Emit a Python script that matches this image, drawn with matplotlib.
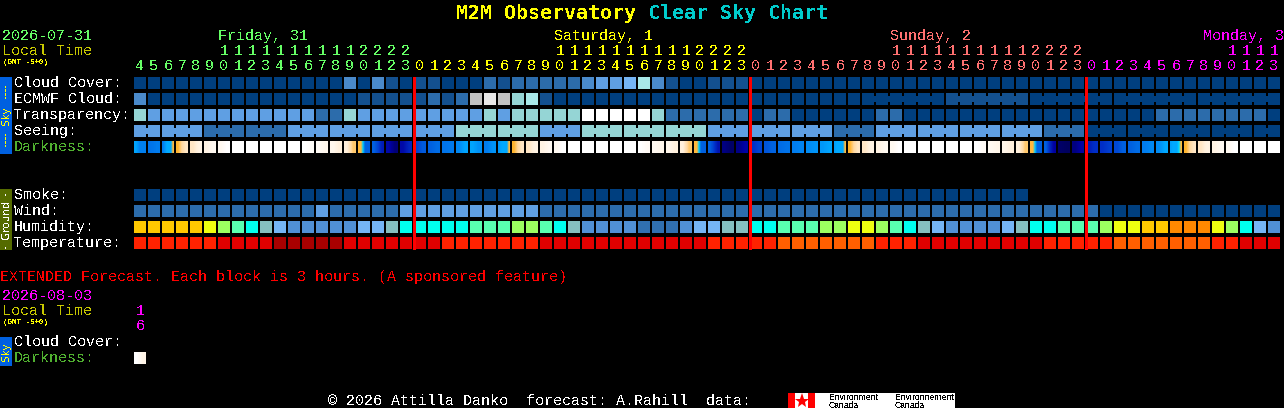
import numpy as np
import matplotlib
matplotlib.use('Agg')
import matplotlib.pyplot as plt
from matplotlib.colors import LinearSegmentedColormap
from matplotlib.patches import Rectangle

plt.rcParams['text.antialiased'] = False

# hour of each column, first column is 04:00 on friday
hours = [4, 5, 6, 7, 8, 9, 10, 11, 12, 13, 14, 15, 16, 17, 18, 19, 20, 21, 22, 23,
         0, 1, 2, 3, 4, 5, 6, 7, 8, 9, 10, 11, 12, 13, 14, 15, 16, 17, 18, 19, 20, 21, 22, 23,
         0, 1, 2, 3, 4, 5, 6, 7, 8, 9, 10, 11, 12, 13, 14, 15, 16, 17, 18, 19, 20, 21, 22, 23,
         0, 1, 2, 3, 4, 5, 6, 7, 8, 9, 10, 11, 12, 13]
midnights = [20, 44, 68]

# values are indices into the palettes below
cloud = [0, 0, 0, 0, 0, 0, 0, 0, 0, 0, 0, 0, 0, 0, 0, 3, 0, 3, 1, 0,
         1, 1, 0, 0, 0, 2, 1, 2, 2, 2, 2, 2, 3, 4, 4, 5, 7, 3, 1, 0,
         0, 1, 1, 1, 0, 0, 0, 0, 0, 0, 0, 0, 0, 0, 0, 0, 0, 0, 0, 0,
         0, 0, 0, 0, 0, 0, 0, 0, 0, 0, 0, 0, 0, 0, 0, 0, 0, 0, 0, 0, 0, 0]
ecmwf = [3, 0, 0, 0, 0, 0, 0, 0, 0, 0, 0, 0, 0, 0, 0, 0, 1, 1, 1, 1,
         1, 2, 1, 2, 8, 9, 8, 6, 7, 1, 0, 0, 0, 0, 0, 0, 0, 0, 0, 0,
         0, 0, 0, 0, 0, 0, 0, 0, 0, 0, 0, 0, 0, 0, 0, 0, 0, 0, 1, 1,
         1, 1, 1, 1, 0, 0, 0, 0, 0, 0, 0, 0, 0, 0, 0, 0, 0, 0, 0, 0, 0, 0]
ecmwf_groups = [1] * 52 + [6] * 5
transparency = [6, 4, 4, 4, 4, 4, 4, 4, 4, 4, 4, 4, 4, 2, 2, 6, 4, 4, 4, 4,
                4, 4, 4, 4, 4, 6, 4, 6, 6, 6, 6, 6, 10, 10, 10, 10, 10, 6, 2, 2,
                2, 2, 2, 2, 0, 2, 2, 0, 0, 0, 0, 0, 0, 2, 2, 0, 0, 0, 0, 0,
                0, 0, 0, 0, 0, 0, 0, 0, 0, 0, 0, 0, 0, 2, 2, 2, 2, 2, 2, 2, 2, 0]
seeing_3h = [4, 4, 2, 2, 4, 4, 4, 4, 6, 6, 4, 6, 6, 6, 4, 4, 4, 2, 4, 4, 4, 4, 2, 0, 0, 0, 0, 0]
seeing_groups = [2] + [3] * 26 + [2]
smoke = [0, 0, 0, 0, 0, 0, 0, 0, 0, 0, 0, 0, 0, 0, 0, 0, 0, 0, 0, 0,
         0, 0, 0, 0, 0, 0, 0, 0, 0, 0, 0, 0, 0, 0, 0, 0, 0, 0, 0, 0,
         0, 0, 0, 0, 0, 0, 0, 0, 0, 0, 0, 0, 0, 0, 0, 0, 0, 0, 0, 0, 0, 0, 0, 0]
wind = [2, 2, 2, 2, 2, 2, 2, 2, 2, 2, 2, 2, 2, 4, 2, 2, 2, 2, 2, 4,
        4, 4, 4, 4, 4, 4, 4, 4, 4, 2, 2, 2, 2, 2, 2, 2, 2, 2, 2, 2,
        2, 2, 2, 2, 2, 2, 2, 2, 2, 2, 2, 2, 2, 2, 2, 2, 2, 2, 2, 2,
        2, 2, 2, 2, 2, 2, 2, 2, 2, 0, 0, 0, 0, 0, 0, 0, 0, 0, 0, 0, 0, 0]
humidity = [1, 1, 1, 1, 1, 2, 3, 4, 5, 6, 7, 8, 8, 8, 8, 8, 7, 7, 6, 5,
            5, 5, 5, 5, 4, 4, 4, 3, 3, 4, 5, 6, 8, 8, 8, 8, 9, 9, 9, 8,
            7, 7, 6, 6, 5, 5, 4, 4, 4, 3, 3, 2, 2, 3, 4, 5, 6, 7, 8, 8,
            8, 8, 7, 6, 5, 5, 4, 4, 4, 3, 2, 2, 1, 1, 0, 0, 0, 2, 3, 5, 7, 8]
temperature = [1, 1, 1, 1, 1, 1, 2, 2, 2, 2, 3, 3, 3, 3, 3, 2, 2, 2, 2, 2,
               2, 2, 1, 1, 1, 1, 1, 1, 1, 2, 2, 2, 2, 2, 2, 2, 2, 2, 2, 2,
               2, 1, 1, 1, 1, 1, 0, 0, 0, 0, 0, 0, 0, 1, 1, 1, 2, 2, 2, 2,
               2, 2, 2, 2, 2, 1, 1, 1, 1, 1, 0, 0, 0, 0, 0, 0, 0, 1, 1, 2, 2, 2]

# sky brightness read across each block, 0 is darkest, 9 is daylight
darkness = [(4.9, 4.0, 4.0), (3.6, 3.9), (3.9, 4.5, 5, 5, 5, 6.2), (6.1, 7, 7.6), (7.6, 8.2),
            (8.2, 8.6), (8.6, 9), (9, 9), (9, 9), (9, 9), (9, 9), (9, 9), (9, 8.8), (8.7, 8.5),
            (8.5, 8), (8, 6.6), (6.2, 6.2, 5.3, 3.1, 3, 3), (3, 2.4, 1.6), (1.2, 0.5), (1.2, 1.8),
            (2.4, 2.9), (3, 3.4), (3.6, 3.8), (4.2, 4.9), (4.9, 4.4), (3.9, 4.5),
            (4.6, 4.9, 5, 5, 5, 6.2), (6.1, 7, 7.6), (7.6, 8.2), (8.2, 8.6), (8.6, 9),
            (9, 9), (9, 9), (9, 9), (9, 9), (9, 9), (9, 8.7), (8.6, 8.4), (8.4, 8), (8, 6.6),
            (6.2, 6.2, 5.3, 3.1, 3, 3), (3, 2.2, 1.4), (0.6, 0.3), (0.7, 1.1),
            (2, 2.4), (2.8, 3.1), (3.4, 3.6), (3.9, 4.1), (4.3, 4.5), (4.6, 4.9),
            (4.8, 5, 5, 5, 5, 6.2), (6.1, 7, 7.6), (7.6, 8.2), (8.2, 8.6), (8.6, 9),
            (9, 9), (9, 9), (9, 9), (9, 9), (9, 9), (9, 8.7), (8.6, 8.4), (8.4, 8), (8, 6.6),
            (6.2, 6.2, 5.3, 3.1, 3, 3), (3, 1.8, 1), (0.3, 0.2), (0.6, 1.1),
            (1.6, 2), (2, 2.3), (2.5, 3), (3, 3.4), (3.9, 4.2), (4.3, 5),
            (4.8, 5, 5, 5, 5.4, 6.2), (6.1, 7, 7.6), (7.6, 8.2), (8.2, 8.6), (8.6, 9),
            (9, 9), (9, 9), (9, 9)]
ext_darkness = [(9, 8.3)]

sky_colors = ['#003f7f', '#13508f', '#2c6cab', '#4a8acb', '#5f9fe3', '#75b5f5',
              '#95d5d5', '#a8e8e8', '#c2c2c2', '#e8e8e8', '#ffffff']
humidity_colors = ['#ff8800', '#ffc800', '#eeff10', '#9cff60', '#59ffb0', '#00ffee',
                   '#85bfbf', '#75b5f5', '#5090d5', '#3070b0']
temp_colors = ['#ff5f00', '#ff2200', '#e00000', '#a80000']
dark_stops = [(0, '#000050'), (1, '#0000a0'), (2, '#0030c8'), (3, '#0060e0'), (4, '#0080f0'),
              (5, '#00a8ff'), (5.5, '#00e5ff'), (6, '#ffb020'), (7, '#ffd8a0'), (8, '#fff0dc'),
              (9, '#ffffff')]
dark_cmap = LinearSegmentedColormap.from_list('dark', [(v / 9, c) for v, c in dark_stops])

GREEN = '#66ff66'
YELLOW = '#ffff00'
SALMON = '#ff7070'
MAGENTA = '#ff00ff'
OLIVE = '#c8c800'
DARK_GREEN = '#50b030'
MONO = 'Liberation Mono'

fig = plt.figure(figsize=(12.84, 4.08), dpi=100, facecolor='black')
ax = fig.add_axes([0, 0, 1, 1], facecolor='black')


def left(col):
    return 134 + 14 * np.asarray(col)


def label(x, y, s, color='white', size=10.8, **kw):
    ax.text(x, y, s, color=color, fontsize=size, family=MONO, va='baseline', **kw)


def blocks(values, colors, top, groups=None):
    cols = np.arange(len(values))
    shades = [colors[v] for v in values]
    ax.bar(left(cols), 12, 12, bottom=top, color=shades, align='edge', antialiased=False)
    if groups is None:
        return
    # blocks of one forecast step are joined by a thin bridge
    start = 0
    for size in groups:
        for col in range(start, start + size - 1):
            ax.bar(left(col) + 12, 6, 2, bottom=top + 3, color=shades[col], align='edge', antialiased=False)
        start += size


def dark_blocks(samples, top):
    for col, row in enumerate(samples):
        x = left(col)
        ax.imshow(np.array([row], dtype=float), extent=(x, x + 12, top + 12, top), cmap=dark_cmap,
                  vmin=0, vmax=9, interpolation='bilinear', aspect='auto')


def tab_text(y, s, color):
    ax.text(6, y, s, color=color, fontsize=7.5, family='DejaVu Sans', rotation=90, ha='center', va='center')


# title
ax.text(456, 19, 'M2M Observatory', color=YELLOW, fontsize=14.4, family='DejaVu Sans Mono', weight='bold', va='baseline')
ax.text(648, 19, 'Clear Sky Chart', color='#00cccc', fontsize=14.4, family='DejaVu Sans Mono', weight='bold', va='baseline')

# header
label(2, 40, '2026-07-31', GREEN)
label(2, 55, 'Local Time', OLIVE)
label(3, 64, '(GMT -5+0)', YELLOW, size=5.4, weight='bold')
label(218, 40, 'Friday, 31', GREEN)
label(554, 40, 'Saturday, 1', YELLOW)
label(890, 40, 'Sunday, 2', SALMON)
label(1203, 40, 'Monday, 3', MAGENTA)

day_colors = [GREEN] * midnights[0] + [YELLOW] * 24 + [SALMON] * 24 + [MAGENTA] * 14
for col, hour in enumerate(hours):
    x = left(col) + 6
    label(x, 70, str(hour % 10), day_colors[col], ha='center')
    if hour >= 10:
        label(x, 55, str(hour // 10), day_colors[col], ha='center')

# sky rows
row_names = ['Cloud Cover:', 'ECMWF Cloud:', 'Transparency:', 'Seeing:']
for i, name in enumerate(row_names):
    label(14, 87 + 16 * i, name)
label(14, 151, 'Darkness:', DARK_GREEN)
blocks(cloud, sky_colors, 77)
blocks(ecmwf, sky_colors, 93, ecmwf_groups)
blocks(transparency, sky_colors, 109)
blocks(np.repeat(seeing_3h, seeing_groups), sky_colors, 125, seeing_groups)
dark_blocks(darkness, 141)

# ground rows
for i, name in enumerate(['Smoke:', 'Wind:', 'Humidity:', 'Temperature:']):
    label(14, 199 + 16 * i, name)
blocks(smoke, sky_colors, 189)
blocks(wind, sky_colors, 205)
blocks(humidity, humidity_colors, 221)
blocks(temperature, temp_colors, 237)

# red midnight markers, one column edge each
ax.bar(left(midnights) - 1, 173, 3, bottom=77, color='#ff0000', align='edge', antialiased=False, zorder=5)

# side tabs
ax.add_patch(Rectangle((0, 77), 12, 77, color='#0060e0', lw=0))
ax.add_patch(Rectangle((0, 189), 12, 61, color='#556b00', lw=0))
ax.add_patch(Rectangle((0, 337), 12, 29, color='#0060e0', lw=0))
tab_text(91, '----', YELLOW)
tab_text(115.5, 'Sky', YELLOW)
tab_text(139, '----', YELLOW)
tab_text(193, '-', 'white')
tab_text(219.5, 'Ground', 'white')
tab_text(246, '-', 'white')
tab_text(351.5, 'Sky', YELLOW)

# extended forecast
label(0, 281, 'EXTENDED Forecast. Each block is 3 hours. (A sponsored feature)', '#ff0000')
label(2, 300, '2026-08-03', MAGENTA)
label(2, 315, 'Local Time', OLIVE)
label(3, 324, '(GMT -5+0)', YELLOW, size=5.4, weight='bold')
label(140, 315, '1', MAGENTA, ha='center')
label(140, 330, '6', MAGENTA, ha='center')
label(14, 346, 'Cloud Cover:')
label(14, 362, 'Darkness:', DARK_GREEN)
dark_blocks(ext_darkness, 352.5)

# footer and logo
label(328, 405, '\u00a9 2026 Attilla Danko  forecast: A.Rahill  data:')
ax.add_patch(Rectangle((788, 393), 27, 15, color='#ff0000', lw=0))
ax.add_patch(Rectangle((795, 393), 13, 15, color='white', lw=0))
ax.add_patch(Rectangle((815, 393), 140, 15, color='white', lw=0))
ax.plot([801.5], [400.5], marker='*', ms=11, color='#ff0000', mew=0)
for x, first in [(829, 'Environment'), (895, 'Environnement')]:
    ax.text(x, 399.5, first, color='black', fontsize=6.2, family='Liberation Sans', va='baseline')
    ax.text(x, 407.5, 'Canada', color='black', fontsize=6.2, family='Liberation Sans', va='baseline')

ax.set_xlim(0, 1284)
ax.set_ylim(408, 0)
ax.axis('off')
fig.savefig('out.png', dpi=100, facecolor='black')
